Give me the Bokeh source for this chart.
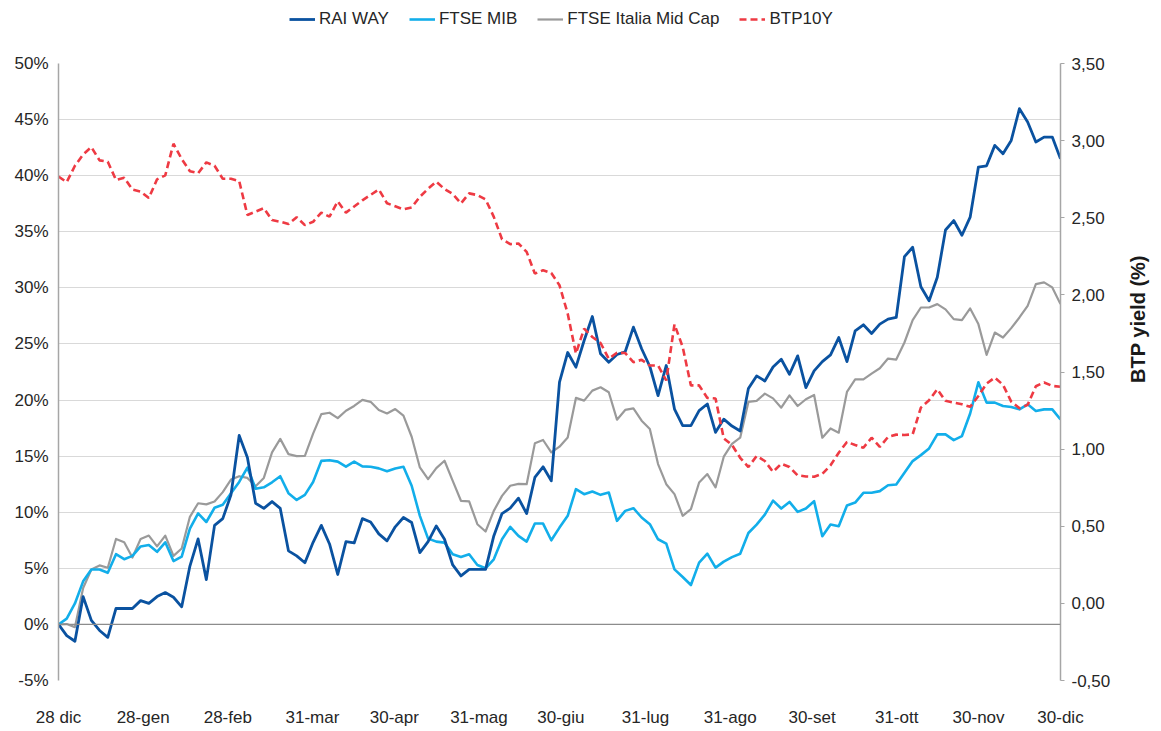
import pandas as pd
from bokeh.plotting import figure
from bokeh.layouts import column, row
from bokeh.models import (Range1d, LinearAxis, FixedTicker, CustomJSTickFormatter,
                          Span, Legend, LegendItem, Label, ColumnDataSource)
from bokeh.embed import file_html
from bokeh.resources import INLINE

# ---------------- data ----------------
start_date, end_date = "2020-12-28", "2021-12-30"
n_points = 123
dates = pd.date_range(start_date, end_date, periods=n_points)

tick_dates = ["2020-12-28", "2021-01-28", "2021-02-28", "2021-03-31", "2021-04-30",
              "2021-05-31", "2021-06-30", "2021-07-31", "2021-08-31", "2021-09-30",
              "2021-10-31", "2021-11-30", "2021-12-30"]
tick_labels = ["28 dic", "28-gen", "28-feb", "31-mar", "30-apr", "31-mag", "30-giu",
               "31-lug", "31-ago", "30-set", "31-ott", "30-nov", "30-dic"]

left_ticks = [-5, 0, 5, 10, 15, 20, 25, 30, 35, 40, 45, 50]
right_ticks = [-0.5, 0.0, 0.5, 1.0, 1.5, 2.0, 2.5, 3.0, 3.5]

series_names = ["RAI WAY", "FTSE MIB", "FTSE Italia Mid Cap", "BTP10Y"]
right_title = "BTP yield (%)"

rai_way = [0, -1.0, -1.5, 2.48, 0.36, -0.54, -1.15, 1.42, 1.42, 1.42,
           2.12, 1.87, 2.48, 2.84, 2.42, 1.57, 5.2, 7.62, 3.99, 8.83,
           9.43, 11.55, 16.84, 14.88, 10.8, 10.34, 10.95, 10.34, 6.56, 6.11,
           5.5, 7.32, 8.83, 7.17, 4.45, 7.38, 7.26, 9.43, 9.13, 8.07,
           7.45, 8.7, 9.53, 9.08, 6.4, 7.38, 8.78, 7.59, 5.3, 4.32,
           4.91, 4.91, 4.91, 7.89, 9.88, 10.36, 11.25, 9.88, 13.1, 14.05,
           12.8, 21.59, 24.24, 22.93, 25.31, 27.45, 24.12, 23.37, 24.06, 24.3,
           26.5, 24.57, 22.99, 20.4, 23.08, 19.2, 17.72, 17.72, 19.06, 19.65,
           17.12, 18.3, 17.68, 17.24, 21.02, 22.15, 21.7, 22.95, 23.64, 22.3,
           23.94, 21.11, 22.6, 23.43, 24.03, 25.57, 23.43, 26.17, 26.71, 25.93,
           26.77, 27.21, 27.36, 32.78, 33.62, 30.1, 28.85, 30.94, 35.16, 36.0,
           34.69, 36.3, 40.76, 40.88, 42.7, 41.95, 43.14, 45.97, 44.78, 43.0,
           43.44, 43.44, 41.5]

ftse_mib = [0, 0.51, 1.87, 3.84, 4.9, 4.9, 4.6, 6.26, 5.81, 6.11,
            6.95, 7.08, 6.47, 7.32, 5.65, 6.05, 8.53, 9.89, 9.13, 10.4,
            10.67, 11.7, 12.7, 13.97, 12.1, 12.22, 12.67, 13.21, 11.7, 11.1,
            11.55, 12.7, 14.58, 14.64, 14.51, 14.06, 14.51, 14.09, 14.06, 13.91,
            13.65, 13.9, 14.05, 12.36, 9.68, 7.65, 7.38, 7.29, 6.25, 6.01,
            6.25, 5.3, 5.0, 5.8, 7.59, 8.69, 7.89, 7.38, 8.99, 8.99,
            7.5, 8.63, 9.68, 12.06, 11.61, 11.85, 11.55, 11.76, 9.23, 10.12,
            10.36, 9.53, 8.93, 7.59, 7.2, 4.91, 4.23, 3.51, 5.51, 6.31,
            5.06, 5.6, 6.0, 6.3, 8.15, 8.9, 9.79, 11.04, 10.33, 10.92,
            10.03, 10.33, 10.98, 7.86, 8.9, 8.75, 10.6, 10.86, 11.73, 11.73,
            11.88, 12.41, 12.47, 13.51, 14.56, 15.09, 15.69, 16.94, 16.94, 16.43,
            16.79, 18.8, 21.58, 19.77, 19.77, 19.47, 19.38, 19.17, 19.62, 19.02,
            19.17, 19.17, 18.28]

ftse_mid_cap = [0, 0.03, -0.24, 3.24, 4.9, 5.26, 5.05, 7.62, 7.32, 5.96,
                7.62, 7.92, 6.95, 7.92, 6.11, 6.77, 9.59, 10.8, 10.7, 10.95,
                11.79, 12.91, 13.21, 13.06, 12.31, 13.06, 15.33, 16.54, 15.18, 15.0,
                15.03, 17.0, 18.75, 18.87, 18.39, 19.05, 19.47, 20.02, 19.84, 19.11,
                18.8, 19.2, 18.61, 16.73, 13.99, 12.95, 13.93, 14.59, 12.8, 11.02,
                10.96, 8.93, 8.28, 10.12, 11.46, 12.36, 12.53, 12.5, 16.14, 16.44,
                15.33, 15.84, 16.67, 20.19, 19.95, 20.84, 21.14, 20.69, 18.25, 19.12,
                19.26, 18.16, 17.42, 14.29, 12.5, 11.61, 9.68, 10.27, 12.65, 13.4,
                12.21, 14.95, 16.1, 16.64, 19.83, 19.92, 20.57, 20.15, 19.32, 20.42,
                19.47, 20.07, 20.45, 16.64, 17.47, 17.09, 20.72, 21.85, 21.85, 22.36,
                22.83, 23.7, 23.61, 25.13, 27.12, 28.25, 28.25, 28.55, 28.08, 27.21,
                27.12, 28.17, 26.77, 24.03, 26.02, 25.57, 26.41, 27.36, 28.4, 30.34,
                30.49, 30.04, 28.55]

btp10y = [2.767, 2.731, 2.837, 2.91, 2.958, 2.872, 2.863, 2.745, 2.76, 2.683,
          2.67, 2.628, 2.749, 2.775, 2.98, 2.881, 2.802, 2.789, 2.859, 2.837,
          2.753, 2.753, 2.738, 2.518, 2.54, 2.562, 2.485, 2.474, 2.459, 2.503,
          2.452, 2.474, 2.533, 2.507, 2.606, 2.533, 2.573, 2.613, 2.648, 2.683,
          2.594, 2.574, 2.554, 2.567, 2.636, 2.688, 2.734, 2.686, 2.654, 2.593,
          2.658, 2.647, 2.619, 2.506, 2.361, 2.329, 2.333, 2.279, 2.138, 2.16,
          2.142, 2.062, 1.878, 1.62, 1.781, 1.727, 1.688, 1.586, 1.625, 1.623,
          1.564, 1.579, 1.542, 1.542, 1.445, 1.809, 1.662, 1.413, 1.413, 1.332,
          1.328, 1.07, 1.027, 0.944, 0.884, 0.955, 0.923, 0.853, 0.905, 0.884,
          0.83, 0.823, 0.821, 0.84, 0.895, 0.977, 1.046, 1.027, 1.009, 1.074,
          1.014, 1.079, 1.094, 1.092, 1.096, 1.269, 1.317, 1.388, 1.313, 1.302,
          1.291, 1.274, 1.345, 1.425, 1.464, 1.417, 1.308, 1.265, 1.287, 1.408,
          1.432, 1.41, 1.404]

# ---------------- styling ----------------
FONT = "Liberation Sans"
TXT = "#262626"
C_RAI = "#0a52a0"
C_MIB = "#12aeea"
C_MID = "#9a9a9a"
C_BTP = "#ee3a43"
STYLES = [dict(line_color=C_RAI, line_width=2.8),
          dict(line_color=C_MIB, line_width=2.6),
          dict(line_color=C_MID, line_width=2.2),
          dict(line_color=C_BTP, line_width=2.6, line_dash="7 4")]

LEG_H = 40
MAIN_W, MAIN_H = 1115, 691
TITLE_W = 1161 - MAIN_W

source = ColumnDataSource(data=dict(date=dates, rai=rai_way, mib=ftse_mib,
                                    mid=ftse_mid_cap, btp=btp10y))

p = figure(width=MAIN_W, height=MAIN_H, output_backend="svg", toolbar_location=None,
           x_axis_type="datetime",
           x_range=Range1d(pd.Timestamp(start_date), pd.Timestamp(end_date)),
           y_range=Range1d(-5, 50),
           min_border_left=58, min_border_right=55, min_border_top=23,
           min_border_bottom=51)
p.outline_line_color = None
p.background_fill_color = "white"
p.extra_y_ranges = {"btp": Range1d(-0.5, 3.5)}

# grid
p.xgrid.visible = False
p.ygrid.ticker = FixedTicker(ticks=[t for t in left_ticks if t > 0])
p.ygrid.grid_line_color = "#d9d9d9"
p.ygrid.grid_line_width = 1.2
p.add_layout(Span(location=0, dimension="width", line_color="#8c8c8c", line_width=1.2))

# left axis
ya = p.yaxis[0]
ya.ticker = FixedTicker(ticks=left_ticks)
ya.formatter = CustomJSTickFormatter(code="return tick + '%';")
ya.axis_line_color = "#a6a6a6"
ya.axis_line_width = 1.5
ya.major_tick_line_color = None
ya.minor_tick_line_color = None
ya.major_tick_out = 0
ya.major_tick_in = 0
ya.major_label_standoff = 10
ya.major_label_text_font = FONT
ya.major_label_text_font_size = "17px"
ya.major_label_text_color = TXT

# right axis
ra = LinearAxis(y_range_name="btp", ticker=FixedTicker(ticks=right_ticks),
                formatter=CustomJSTickFormatter(code="return tick.toFixed(2).replace('.', ',');"))
ra.axis_line_color = "#a6a6a6"
ra.axis_line_width = 1.5
ra.major_tick_line_color = "#a6a6a6"
ra.major_tick_out = 4
ra.major_tick_in = 0
ra.minor_tick_line_color = None
ra.major_label_standoff = 7
ra.major_label_text_font = FONT
ra.major_label_text_font_size = "17px"
ra.major_label_text_color = TXT
p.add_layout(ra, "right")

# x axis
xa = p.xaxis[0]
tick_ms = [float(pd.Timestamp(d).value // 10**6) for d in tick_dates]
xa.ticker = FixedTicker(ticks=tick_ms)
xa.formatter = CustomJSTickFormatter(args=dict(tvals=tick_ms, tnames=tick_labels), code="""
const i = tvals.findIndex(t => Math.abs(t - tick) < 1000);
return i >= 0 ? tnames[i] : "";
""")
xa.axis_line_color = None
xa.major_tick_line_color = None
xa.minor_tick_line_color = None
xa.major_tick_out = 0
xa.major_tick_in = 0
xa.major_label_standoff = 27
xa.major_label_text_font = FONT
xa.major_label_text_font_size = "17px"
xa.major_label_text_color = TXT

# lines
p.line("date", "mid", source=source, line_join="round", **STYLES[2])
p.line("date", "mib", source=source, line_join="round", **STYLES[1])
p.line("date", "rai", source=source, line_join="round", **STYLES[0])
p.line("date", "btp", source=source, y_range_name="btp", **STYLES[3])

# ---------------- legend strip (top) ----------------
lg = figure(width=1161, height=LEG_H, output_backend="svg", toolbar_location=None,
            x_range=Range1d(0, 1), y_range=Range1d(0, 1),
            x_axis_location=None, y_axis_location=None, min_border=0)
lg.outline_line_color = None
lg.xgrid.visible = False
lg.ygrid.visible = False
# legend-only renderers: NaN data, nothing is drawn in the strip itself
proxy = ColumnDataSource(data=dict(x=[float("nan")], y=[float("nan")]))
items = []
for name, st in zip(series_names, STYLES):
    r = lg.line("x", "y", source=proxy, **st)
    items.append(LegendItem(label=name, renderers=[r]))
legend = Legend(items=items, orientation="horizontal", location=(289, 11), margin=0,
                padding=0, spacing=20, glyph_width=26, glyph_height=18, label_standoff=4,
                border_line_color=None, background_fill_alpha=0,
                label_text_font=FONT, label_text_font_size="17px", label_text_color=TXT)
lg.add_layout(legend, "center")

# ---------------- right axis title strip ----------------
tf = figure(width=TITLE_W, height=MAIN_H, output_backend="svg", toolbar_location=None,
            x_range=Range1d(0, 1), y_range=Range1d(0, 1),
            x_axis_location=None, y_axis_location=None, min_border=0)
tf.outline_line_color = None
tf.xgrid.visible = False
tf.ygrid.visible = False
tf.add_layout(Label(x=22, y=MAIN_H - 51 - 617 / 2 + 30, x_units="screen", y_units="screen",
                    text=right_title, angle=90, angle_units="deg", text_align="center",
                    text_baseline="middle", text_font=FONT, text_font_style="bold",
                    text_font_size="20px", text_color="#1a1a1a"))

layout = column(lg, row(p, tf, spacing=0), spacing=0)
open("out.html", "w").write(file_html(layout, INLINE))
